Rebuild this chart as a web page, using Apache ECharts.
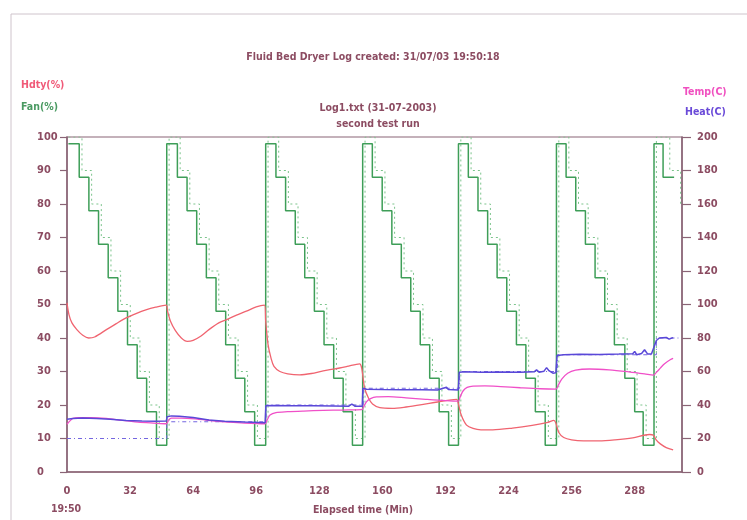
<!DOCTYPE html>
<html>
<head>
<meta charset="utf-8">
<script src="https://cdn.jsdelivr.net/npm/echarts@6/dist/echarts.min.js"></script>
<style>
html,body{margin:0;padding:0;background:#fff;}
#chart{width:747px;height:520px;}
</style>
</head>
<body>
<div id="chart"></div>
<script>
// ---- Data ----
var xTicks = [0, 32, 64, 96, 128, 160, 192, 224, 256, 288];
var fanLevels = [98, 88, 78, 68, 58, 48, 38, 28, 18, 8];
var fanSetLevels = [100, 90, 80, 70, 60, 50, 40, 30, 20, 10];
// time (min) at which each fan level starts, per cycle
var fanCycle1 = [0.7, 6.2, 11.1, 16.0, 20.9, 25.8, 30.7, 35.6, 40.4, 45.4];
var fanCycle2 = [50.6, 56.0, 60.9, 65.8, 70.7, 75.6, 80.5, 85.4, 90.2, 95.2];
var fanCycle3 = [100.8, 106.0, 110.9, 115.8, 120.6, 125.5, 130.4, 135.3, 140.1, 144.8];
var fanCycle4 = [150.0, 154.9, 159.9, 164.8, 169.6, 174.4, 179.2, 184.0, 188.8, 193.6];
var fanCycle5 = [198.6, 203.6, 208.5, 213.4, 218.2, 223.1, 228.0, 232.8, 237.6, 242.6];
var fanCycle6 = [248.3, 253.2, 258.1, 263.0, 267.9, 272.8, 277.7, 283.0, 288.0, 292.3];
var fanCycle7 = [297.8, 302.4];
var fanEnd = 308.0;
// fan set point (dotted) level start times
var fanSet1 = [0.7, 7.6, 12.5, 17.4, 22.3, 27.2, 32.1, 37.0, 41.8, 46.8];
var fanSet2 = [51.8, 57.4, 62.3, 67.2, 72.1, 77.0, 81.9, 86.8, 91.6, 96.6];
var fanSet3 = [102.0, 107.4, 112.3, 117.2, 122.0, 126.9, 131.8, 136.7, 141.5, 146.3];
var fanSet4 = [151.2, 156.3, 161.3, 166.2, 171.0, 175.8, 180.6, 185.4, 190.2, 195.0];
var fanSet5 = [199.8, 205.0, 209.9, 214.8, 219.6, 224.5, 229.4, 234.2, 239.0, 244.2];
var fanSet6 = [249.5, 254.6, 259.5, 264.4, 269.3, 274.2, 279.1, 284.2, 289.2, 293.8];
var fanSet7 = [299.0, 305.8, 311.3];
var fanSetEnd = 311.6;

var hdtyT = [0, 1, 2.5, 5, 8, 11, 14, 20, 25, 30, 35, 40, 45, 50.3, 51, 52.5, 55, 58, 61, 64, 68, 72, 77, 81, 86, 91, 96, 100.2,
  100.8, 102, 103.5, 105, 108, 112, 118, 124, 130, 136, 142, 148.5, 149.5, 151, 153, 155, 158.7, 165, 172, 180, 188, 197.6,
  198.5, 200, 202.7, 206, 210, 216, 226, 236, 244, 247, 248, 249.5, 252, 256, 262, 270, 278, 287, 295.5, 297.5, 299, 301, 304, 307.5];
var hdtyV = [50.5, 47, 44.5, 42.5, 40.8, 40, 40.3, 42.5, 44.3, 46, 47.3, 48.4, 49.2, 49.8, 48, 45, 42.2, 40, 39, 39.3, 40.6, 42.5, 44.5, 45.5, 46.8, 48, 49.3, 49.8,
  45, 38, 34, 31.5, 30, 29.3, 29, 29.4, 30.2, 30.8, 31.5, 32.3, 31, 25, 22, 20.3, 19.2, 19, 19.4, 20.1, 20.9, 21.7,
  20.5, 17, 14, 13, 12.6, 12.6, 13.1, 13.9, 14.8, 15.4, 14.6, 11.8, 10.3, 9.6, 9.3, 9.3, 9.6, 10.2, 11.2, 11, 9.5, 8.4, 7.3, 6.6];

var tempT = [0, 1.5, 3, 6, 12, 20, 28, 36, 44, 50.4, 51.5, 53, 58, 66, 74, 82, 90, 100.4,
  101.5, 103, 106, 112, 120, 130, 140, 149.5, 150.5, 152, 154, 157, 163, 172, 182, 192, 198.5,
  199.5, 201, 203, 206, 212, 220, 230, 240, 248, 249.3, 251, 254, 258, 265, 275, 285, 293, 297.5, 299, 301, 303, 306, 307.5];
var tempV = [28.5, 30.5, 32, 32.5, 32.5, 32, 30.8, 29.8, 29.2, 28.8, 31, 32.2, 32.2, 31.6, 30.6, 29.8, 29.2, 28.8,
  31, 34, 35.5, 36, 36.4, 36.8, 37, 37.2, 39, 42, 43.8, 44.8, 45, 44.3, 43.4, 42.6, 42.3,
  45, 48.5, 50.5, 51.3, 51.4, 51, 50.3, 49.7, 49.5, 52, 55.5, 59, 60.8, 61.5, 61, 59.8, 58.6, 57.8, 59.5, 62, 64.5, 67, 67.8];

var heatT = [0, 3, 8, 15, 22, 30, 38, 45, 50.4, 50.8, 53, 57, 64, 72, 80, 90, 100.5,
  100.9, 104, 115, 125, 135, 143, 144.5, 146, 149.8, 150.1, 150.8, 152, 160, 170, 180, 188, 192.5, 193.5, 194.5, 198.5,
  199, 202, 210, 220, 230, 237, 238.2, 239.5, 242, 243.3, 244.5, 246.5, 248,
  248.6, 252, 260, 270, 280, 287, 288, 289, 291.5, 293, 294.5, 296.5, 299, 300.5, 304, 305.5, 307.5];
var heatV = [31.5, 32, 32.3, 32, 31.5, 30.8, 30.5, 30.3, 30.5, 33, 33.5, 33.3, 32.5, 31, 30.3, 29.8, 29.4,
  39.5, 39.7, 39.6, 39.5, 39.4, 39.3, 40.6, 39.3, 39.2, 50, 51, 49.4, 49.2, 49.1, 49.1, 49, 50.6, 49.2, 49, 49,
  59.5, 59.8, 59.6, 59.7, 59.5, 59.8, 61, 59.6, 60.2, 62.3, 60.5, 59, 59.2,
  69.5, 70, 70.3, 70.2, 70.4, 70.6, 72, 70, 70.8, 73, 70.5, 70.5, 78.5, 80, 80.3, 79.3, 80.2];

var heatSetT = [0, 50.6, 101, 150.3, 199.2, 248.8, 299.0, 310.2];
var heatSetV = [20, 30, 40, 50, 60, 70, 80, 80];

// ---- build series data ----
function pairs(t, v) { var out = []; for (var i = 0; i < t.length; i++) out.push([t[i], v[i]]); return out; }
function steps(cycles, levels, endT) {
  var out = [];
  cycles.forEach(function (c) { c.forEach(function (t, i) { out.push([t, levels[i]]); }); });
  out.push([endT, out[out.length - 1][1]]);
  return out;
}
var fanData = steps([fanCycle1, fanCycle2, fanCycle3, fanCycle4, fanCycle5, fanCycle6, fanCycle7], fanLevels, fanEnd);
var fanSetData = steps([fanSet1, fanSet2, fanSet3, fanSet4, fanSet5, fanSet6, fanSet7], fanSetLevels, fanSetEnd);

var FONT = "'Liberation Sans Narrow','DejaVu Sans Condensed','Arial Narrow',sans-serif";
var MAUVE = '#8c4c62';
var AX = '#8a6476';

var chart = echarts.init(document.getElementById('chart'), null, {renderer: 'canvas'});
function txt(x, y, s, color, align) {
  return {type: 'text', x: x, y: y, style: {text: s, fill: color, font: 'bold 10.5px ' + FONT, textAlign: align || 'center', textVerticalAlign: 'middle'}};
}
chart.setOption({
  animation: false,
  backgroundColor: '#ffffff',
  grid: {left: 67, right: 65, top: 137, bottom: 48, show: true, borderColor: AX, borderWidth: 1.2},
  xAxis: {
    type: 'value', min: 0, max: 312, interval: 32,
    axisLine: {show: true, lineStyle: {color: AX, width: 1.5}},
    axisTick: {show: false},
    splitLine: {show: false},
    axisLabel: {
      margin: 14, color: MAUVE, fontFamily: FONT, fontWeight: 'bold', fontSize: 11,
      formatter: function (v) { return xTicks.indexOf(v) >= 0 ? String(v) : ''; }
    }
  },
  yAxis: [{
    type: 'value', min: 0, max: 100, interval: 10, position: 'left',
    axisLine: {show: true, lineStyle: {color: AX, width: 1.5}},
    axisTick: {show: true, length: 7, lineStyle: {color: AX, width: 1.2}},
    splitLine: {show: false},
    axisLabel: {margin: 30, align: 'left', color: MAUVE, fontFamily: FONT, fontWeight: 'bold', fontSize: 11}
  }, {
    type: 'value', min: 0, max: 200, interval: 20, position: 'right',
    axisLine: {show: true, lineStyle: {color: AX, width: 1.5}},
    axisTick: {show: true, length: 9, lineStyle: {color: AX, width: 1.2}},
    splitLine: {show: false},
    axisLabel: {margin: 15, align: 'left', color: MAUVE, fontFamily: FONT, fontWeight: 'bold', fontSize: 11}
  }],
  series: [
    {name: 'Fan set', type: 'line', step: 'end', data: fanSetData, yAxisIndex: 0, showSymbol: false, symbol: 'none',
      lineStyle: {color: '#7cc48c', width: 1, type: [2, 3]}, z: 1},
    {name: 'Fan(%)', type: 'line', step: 'end', data: fanData, yAxisIndex: 0, showSymbol: false, symbol: 'none',
      lineStyle: {color: '#3e9e58', width: 1.5}, z: 2},
    {name: 'Heat set', type: 'line', step: 'end', data: pairs(heatSetT, heatSetV), yAxisIndex: 1, showSymbol: false, symbol: 'none',
      lineStyle: {color: '#7466e0', width: 1, type: [4, 3, 1, 3]}, z: 3},
    {name: 'Hdty(%)', type: 'line', smooth: 0.3, data: pairs(hdtyT, hdtyV), yAxisIndex: 0, showSymbol: false, symbol: 'none',
      lineStyle: {color: '#f06470', width: 1.3}, z: 4},
    {name: 'Temp(C)', type: 'line', smooth: 0.3, data: pairs(tempT, tempV), yAxisIndex: 1, showSymbol: false, symbol: 'none',
      lineStyle: {color: '#f050c8', width: 1.3}, z: 5},
    {name: 'Heat(C)', type: 'line', data: pairs(heatT, heatV), yAxisIndex: 1, showSymbol: false, symbol: 'none',
      lineStyle: {color: '#5a48d8', width: 1.5}, z: 6}
  ],
  graphic: [
    {type: 'line', shape: {x1: 11, y1: 14, x2: 747, y2: 14}, style: {stroke: '#cfc4cc', lineWidth: 1}},
    {type: 'line', shape: {x1: 11, y1: 14, x2: 11, y2: 520}, style: {stroke: '#cfc4cc', lineWidth: 1}},
    txt(373, 57, 'Fluid Bed Dryer Log created: 31/07/03 19:50:18', MAUVE),
    txt(21, 85, 'Hdty(%)', '#f05a78', 'left'),
    txt(21, 107, 'Fan(%)', '#4a9a62', 'left'),
    txt(378, 108, 'Log1.txt (31-07-2003)', MAUVE),
    txt(378, 124, 'second test run', MAUVE),
    txt(683, 92, 'Temp(C)', '#f050c0', 'left'),
    txt(685, 112, 'Heat(C)', '#6a4ad8', 'left'),
    txt(66, 509, '19:50', MAUVE),
    txt(363, 510, 'Elapsed time (Min)', MAUVE)
  ]
});
</script>
</body>
</html>
